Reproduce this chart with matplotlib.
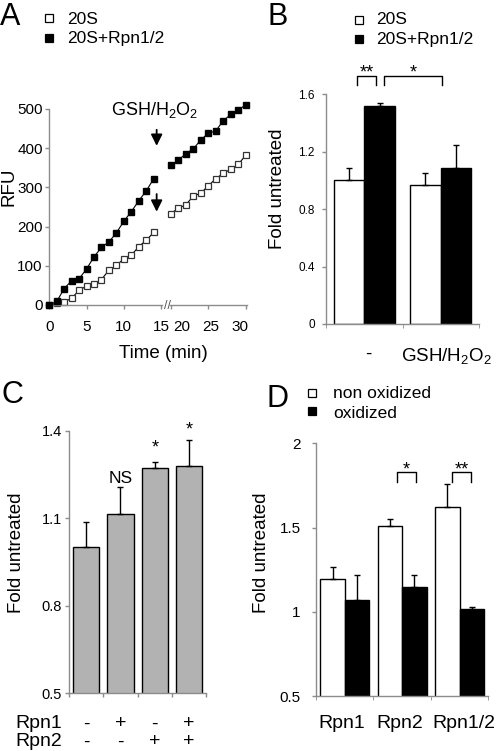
import matplotlib
matplotlib.use('Agg')
import matplotlib.pyplot as plt
from matplotlib.lines import Line2D
from matplotlib.transforms import blended_transform_factory, ScaledTranslation
import numpy as np

plt.rcParams['font.family'] = ['Liberation Sans', 'DejaVu Sans']
plt.rcParams['mathtext.default'] = 'regular'

# ---- datos panel A (cinetica) ----
time_a1 = [0, 1, 2, 3, 4, 5, 6, 7, 8, 9, 10, 11, 12, 13, 14]
rfu_20s_a1 = [0, 4, 8, 17, 38, 48, 54, 65, 89, 101, 118, 127, 149, 165, 185]
rfu_rpn_a1 = [0, 9, 42, 62, 67, 92, 123, 147, 161, 184, 214, 238, 266, 291, 322]
time_a2 = [20, 21, 22, 23, 24, 25, 26, 27, 28, 29, 30]
rfu_20s_a2 = [233, 247, 255, 278, 285, 304, 322, 336, 346, 359, 382]
rfu_rpn_a2 = [356, 369, 386, 398, 421, 438, 444, 470, 486, 497, 511]

# ---- datos panel B ----
groups_b = ['-', 'GSH/H$_2$O$_2$']
b_20s = [1.0, 0.97]
b_20s_err = [0.09, 0.085]
b_rpn = [1.52, 1.09]
b_rpn_err = [0.02, 0.16]

# ---- datos panel C ----
c_vals = [1.0, 1.114, 1.271, 1.279]
c_err = [0.088, 0.094, 0.023, 0.089]
c_marks = ['', 'NS', '*', '*']
c_mark_y = [0, 1.222, 1.324, 1.387]
rpn1_signs = ['-', '+', '-', '+']
rpn2_signs = ['-', '-', '+', '+']

# ---- datos panel D ----
d_cats = ['Rpn1', 'Rpn2', 'Rpn1/2']
d_nonox = [1.193, 1.511, 1.62]
d_nonox_err = [0.07, 0.04, 0.137]
d_ox = [1.068, 1.147, 1.017]
d_ox_err = [0.15, 0.072, 0.011]

W, H = 497, 751
fig = plt.figure(figsize=(W / 100, H / 100), dpi=100)
GREY = '#8c8c8c'


def fx(x):
    return x / W


def fy(y):
    return 1 - y / H


def box(x0, y0, x1, y1):
    # pixeles (arriba-izquierda) -> fraccion de figura
    return [fx(x0), fy(y1), (x1 - x0) / W, (y1 - y0) / H]


def style(ax, size):
    ax.patch.set_visible(False)
    for s in ['top', 'right']:
        ax.spines[s].set_visible(False)
    for s in ['left', 'bottom']:
        ax.spines[s].set_color(GREY)
        ax.spines[s].set_linewidth(1)
    ax.tick_params(direction='out', length=3, color=GREY, labelsize=size, width=1)


def shift_labels(ax, dxs):
    # corrimiento horizontal de etiquetas (en pixeles)
    for lab, dx in zip(ax.get_xticklabels(), dxs):
        lab.set_transform(lab.get_transform() + ScaledTranslation(dx / 100, 0, fig.dpi_scale_trans))


def legend_items(x, ys, texts, xt, bases, size):
    for (yc, t, yb, face) in zip(ys, texts, bases, ['white', 'black']):
        fig.add_artist(Line2D([fx(x)], [fy(yc)], marker='s', ms=5.5, mfc=face,
                              mec='black', mew=0.9, ls='none', transform=fig.transFigure))
        fig.text(fx(xt), fy(yb), t, size=size, va='baseline', ha='left')


# ================= Panel A =================
axa = fig.add_axes(box(49, 109, 161.5, 305))
axa2 = fig.add_axes(box(170, 109, 246.5, 305))
for ax in (axa, axa2):
    style(ax, 11)
    ax.set_ylim(0, 500)
axa.set_xlim(-0.04, 15.05)
axa2.set_xlim(19.9, 30.1)
axa.set_yticks([0, 100, 200, 300, 400, 500])
axa.tick_params(axis='y', pad=1.5)
axa.tick_params(axis='x', pad=8)
axa.set_xticks([0, 5, 10, 15])
axa2.set_xticks([20, 25, 30])
axa2.tick_params(axis='x', pad=8)
axa2.spines['left'].set_visible(False)
axa2.set_yticks([])
shift_labels(axa2, [11, 2, -6])

for ax, t, o, s in ((axa, time_a1, rfu_20s_a1, rfu_rpn_a1),
                    (axa2, time_a2, rfu_20s_a2, rfu_rpn_a2)):
    ax.plot(t, o, '-s', color='black', lw=0.8, ms=4.5, mfc='white', mec='#333333',
            mew=0.9, clip_on=False)
    ax.plot(t, s, '-s', color='black', lw=0.8, ms=4.5, mfc='black', mec='black',
            clip_on=False, zorder=3)

arrow = dict(arrowstyle='-|>', color='black', lw=1.3, mutation_scale=17,
             shrinkA=0, shrinkB=0)
axa.annotate('', xy=(14.4, 406), xytext=(14.4, 447), arrowprops=arrow,
             annotation_clip=False)
axa.annotate('', xy=(14.4, 238), xytext=(14.4, 283), arrowprops=arrow,
             annotation_clip=False)
axa.text(14.1, 485, 'GSH/H$_2$O$_2$', size=13, ha='center', va='baseline', zorder=5)
fig.text(fx(168), fy(306), '//', size=9, ha='center', va='center', color='#555555')
fig.text(fx(9), fy(187), 'RFU', size=13.5, rotation=90, ha='center', va='center')
fig.text(fx(163), fy(358), 'Time (min)', size=13.5, ha='center', va='baseline')
legend_items(49.3, [18.3, 37.7], ['20S', '20S+Rpn1/2'], 67, [23.5, 43.5], 12.5)

# ================= Panel B =================
axb = fig.add_axes(box(326, 94.3, 479, 324))
style(axb, 8.5)
xb = np.arange(len(groups_b))
axb.bar(xb - 0.2, b_20s, 0.4, color='white', edgecolor='black', lw=1)
axb.bar(xb + 0.2, b_rpn, 0.4, color='black', edgecolor='black', lw=1)
axb.errorbar(xb - 0.2, b_20s, yerr=[np.zeros(2), b_20s_err], fmt='none',
             ecolor='black', elinewidth=1, capsize=2.5, capthick=1)
axb.errorbar(xb + 0.2, b_rpn, yerr=[np.zeros(2), b_rpn_err], fmt='none',
             ecolor='black', elinewidth=1, capsize=2.5, capthick=1)
axb.set_xlim(-0.5, 1.5)
axb.set_ylim(0, 1.6)
axb.set_yticks([0, 0.4, 0.8, 1.2, 1.6], ['0', '0.4', '0.8', '1.2', '1.6'])
axb.tick_params(axis='y', pad=5)
axb.set_xticks([-0.5, 0.5, 1.5], minor=True)
axb.set_xticks(xb, groups_b, size=13.5)
axb.tick_params(axis='x', which='major', length=0, pad=16)
axb.tick_params(axis='x', which='minor', length=3, color=GREY)
shift_labels(axb, [4, 6])
for (x0, x1, lab) in ((-0.09, 0.16, '**'), (0.26, 1.01, '*')):
    axb.plot([x0, x0, x1, x1], [1.664, 1.726, 1.726, 1.664], color='black',
             lw=1, clip_on=False)
    axb.text((x0 + x1) / 2, 1.715, lab, size=13, ha='center', va='baseline')
fig.text(fx(278), fy(188.5), 'Fold untreated', size=13.5, rotation=90,
         ha='center', va='center')
legend_items(359.3, [20, 39], ['20S', '20S+Rpn1/2'], 376, [24.5, 44], 12.5)

# ================= Panel C =================
axc = fig.add_axes(box(69, 430.7, 206.3, 693.3))
style(axc, 10.5)
xc = np.arange(len(c_vals))
axc.bar(xc, c_vals, 0.77, color='#b2b2b2', edgecolor='black', lw=1)
axc.errorbar(xc, c_vals, yerr=[np.zeros(4), c_err], fmt='none',
             ecolor='black', elinewidth=1, capsize=2.5, capthick=1)
axc.set_xlim(-0.5, 3.5)
axc.set_ylim(0.5, 1.4)
axc.set_yticks([0.5, 0.8, 1.1, 1.4])
axc.tick_params(axis='y', pad=2)
axc.set_xticks([-0.5, 0.5, 1.5, 2.5, 3.5], [])
for x, m, ym in zip(xc, c_marks, c_mark_y):
    if m:
        axc.text(x, ym, m, size=12.5 if m == 'NS' else 13,
                 ha='center', va='baseline', clip_on=False)
trc = blended_transform_factory(axc.transData, fig.transFigure)
fig.text(fx(15), fy(728.5), 'Rpn1', size=14, va='baseline')
fig.text(fx(15), fy(746.5), 'Rpn2', size=14, va='baseline')
for x, s1, s2 in zip(xc, rpn1_signs, rpn2_signs):
    axc.text(x, fy(728.5), s1, size=14, ha='center', va='baseline', transform=trc)
    axc.text(x, fy(746.5), s2, size=14, ha='center', va='baseline', transform=trc)
fig.text(fx(17), fy(553), 'Fold untreated', size=13.5, rotation=90,
         ha='center', va='center')

# ================= Panel D =================
axd = fig.add_axes(box(316, 443.3, 488.3, 696))
style(axd, 11)
xd = np.arange(len(d_cats))
axd.bar(xd - 0.212, d_nonox, 0.424, color='white', edgecolor='black', lw=1)
axd.bar(xd + 0.212, d_ox, 0.424, color='black', edgecolor='black', lw=1)
axd.errorbar(xd - 0.212, d_nonox, yerr=[np.zeros(3), d_nonox_err], fmt='none',
             ecolor='black', elinewidth=1, capsize=2.5, capthick=1)
axd.errorbar(xd + 0.212, d_ox, yerr=[np.zeros(3), d_ox_err], fmt='none',
             ecolor='black', elinewidth=1, capsize=2.5, capthick=1)
axd.set_xlim(-0.5, 2.5)
axd.set_ylim(0.5, 2)
axd.set_yticks([0.5, 1, 1.5, 2], ['0.5', '1', '1.5', '2'])
axd.tick_params(axis='y', pad=8)
axd.set_xticks([-0.5, 0.5, 1.5, 2.5], minor=True)
axd.set_xticks(xd, d_cats, size=14)
axd.tick_params(axis='x', which='major', length=0, pad=14)
axd.tick_params(axis='x', which='minor', length=3, color=GREY)
shift_labels(axd, [-3, -2, 4])
for (x0, x1, lab) in ((0.906, 1.242, '*'), (1.869, 2.2, '**')):
    axd.plot([x0, x0, x1, x1], [1.773, 1.828, 1.828, 1.773], color='black',
             lw=1, clip_on=False)
    axd.text((x0 + x1) / 2, 1.815, lab, size=13, ha='center', va='baseline')
fig.text(fx(261.7), fy(553), 'Fold untreated', size=13.5, rotation=90,
         ha='center', va='center')
legend_items(311.7, [393.3, 411], ['non oxidized', 'oxidized'], 333, [398, 418.5], 12.5)

# letras de panel
for lab, x, y in (('A', 0, 25), ('B', 268, 25), ('C', 1.5, 403.3), ('D', 266.5, 406.7)):
    fig.text(fx(x), fy(y), lab, size=22, va='baseline', ha='left')

fig.savefig('out.png', dpi=100)
